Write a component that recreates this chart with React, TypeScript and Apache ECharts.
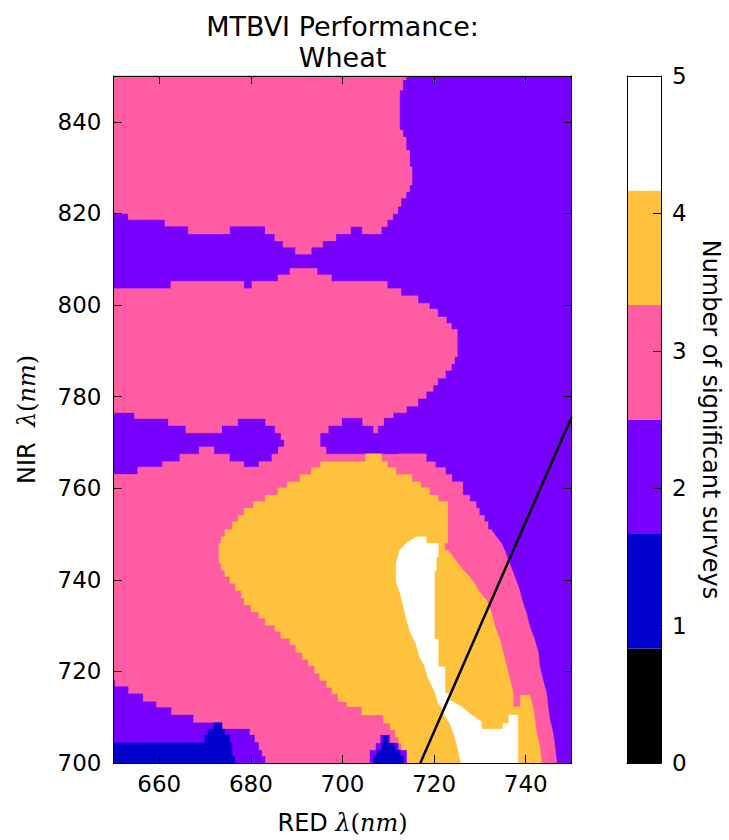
import React, { useEffect, useRef } from 'react';
import * as echarts from 'echarts';

// ---------- data ----------
const LEVEL_COLORS = ['#000000', '#0000CC', '#7800FF', '#FF5CA3', '#FFC23D', '#FFFFFF'];
const COLORBAR_LEVELS = [0, 1, 2, 3, 4, 5];
const COLORBAR_TICKS = [0, 1, 2, 3, 4, 5];
const X_TICKS = [660, 680, 700, 720, 740];
const Y_TICKS = [700, 720, 740, 760, 780, 800, 820, 840];
const TITLE_LINES = ['MTBVI Performance:', 'Wheat'];
const X_NAME = 'RED ';
const Y_NAME = 'NIR  ';
const CBAR_NAME = 'Number of significant surveys';

// region outlines in (RED nm, NIR nm); painted in this order
const purpleBackground = [[650, 700], [750, 700], [750, 850], [650, 850]];

const pinkTop = [[650, 850], [713.9, 850], [713.9, 849.1], [713.2, 849.1], [713.2, 846.9], [712.5, 846.9], [712.5, 838.2], [713.2, 838.2], [713.2, 836.7], [713.9, 836.7], [713.9, 833.8], [714.7, 833.8], [714.7, 830.2], [715.2, 830.2], [715.2, 826.2], [714.7, 826.2], [714.7, 824.7], [713.9, 824.7], [713.9, 823.3], [712.8, 823.3], [712.8, 821.5], [712.1, 821.5], [712.1, 819.9], [711.0, 819.9], [711.0, 818.6], [709.8, 818.6], [709.8, 817.1], [708.5, 817.1], [708.5, 815.5], [704.3, 815.5], [704.3, 817.1], [701.8, 817.1], [701.8, 815.5], [698.6, 815.5], [698.6, 814], [695.7, 814], [695.7, 812.6], [693.2, 812.6], [693.2, 811.1], [689.7, 811.1], [689.7, 812.6], [687, 812.6], [687, 814], [685.2, 814], [685.2, 815.5], [683.1, 815.5], [683.1, 817.2], [675.4, 817.2], [675.4, 815.5], [666.3, 815.5], [666.3, 817.2], [661.2, 817.2], [661.2, 818.6], [653.2, 818.6], [653.2, 819.9], [650, 819.9]];

const pinkMain = [[650, 803.6], [662.5, 803.6], [662.5, 805.2], [678.5, 805.2], [678.5, 803.6], [680.2, 803.6], [680.2, 805.2], [685.9, 805.2], [685.9, 806.6], [688.5, 806.6], [688.5, 808], [694.5, 808], [694.5, 806.6], [697.6, 806.6], [697.6, 805.2], [709.8, 805.2], [709.8, 803.6], [712.8, 803.6], [712.8, 802], [716.5, 802], [716.5, 800.4], [719, 800.4], [719, 799.1], [720.8, 799.1], [720.8, 797.4], [722.7, 797.4], [722.7, 796], [723.8, 796], [723.8, 794.7], [725.1, 794.7], [725.1, 788.7], [724.5, 788.7], [724.5, 787.1], [723.8, 787.1], [723.8, 785.7], [722.5, 785.7], [722.5, 784], [720.8, 784], [720.8, 782.5], [719.8, 782.5], [719.8, 781.1], [718.3, 781.1], [718.3, 779.6], [716.5, 779.6], [716.5, 777.9], [714, 777.9], [714, 776.5], [711.1, 776.5], [711.1, 775.3], [709.1, 775.3], [709.1, 767.5], [718.3, 767.5], [718.3, 765.8], [720.3, 765.8], [720.3, 764.5], [722.5, 764.5], [722.5, 763], [723.9, 763], [723.9, 761.4], [726.3, 761.4], [726.3, 758.5], [727.8, 758.5], [727.8, 757.1], [729.2, 757.1], [729.2, 755.6], [729.9, 755.6], [729.9, 754.1], [731, 754.1], [731, 752.7], [731.8, 752.7], [731.8, 751], [732.5, 751], [733.6, 749.4], [734.7, 748], [735.4, 746.5], [736.5, 743.6], [737.6, 740.7], [738.7, 737.8], [739.2, 735.6], [740.2, 732.7], [740.9, 729.8], [742, 726.9], [742.8, 724], [743.1, 721], [743.8, 718.1], [744.6, 715.2], [744.9, 712.3], [745.3, 709.4], [746, 706.5], [746.4, 703.6], [746.8, 700], [650, 700]];

const purpleBandLeft = [[650, 776.4], [654.5, 776.4], [654.5, 775.1], [661.9, 775.1], [661.9, 773.6], [665.7, 773.6], [665.7, 772], [673.7, 772], [673.7, 773.6], [677.2, 773.6], [677.2, 775.1], [683.1, 775.1], [683.1, 773.6], [685.2, 773.6], [685.2, 772], [686.5, 772], [686.5, 770.5], [687.2, 770.5], [687.2, 769.1], [685.9, 769.1], [685.9, 767.5], [684.5, 767.5], [684.5, 765.9], [681.7, 765.9], [681.7, 764.7], [678.5, 764.7], [678.5, 765.9], [675.4, 765.9], [675.4, 767.5], [672, 767.5], [672, 769.1], [668.6, 769.1], [668.6, 767.5], [664.4, 767.5], [664.4, 765.9], [660.6, 765.9], [660.6, 764.7], [655.2, 764.7], [655.2, 763.1], [650, 763.1]];

const purpleBandRight = [[695.2, 769.1], [695.2, 772], [697, 772], [697, 773.6], [699.9, 773.6], [699.9, 775.3], [704.3, 775.3], [704.3, 773.6], [706.7, 773.6], [706.7, 772], [707.8, 772], [707.8, 773.6], [709.1, 773.6], [709.1, 775.3], [712, 775.3], [712, 767.5], [696.5, 767.5], [696.5, 769.1]];

const orangeCore = [[674.3, 751], [675.9, 751], [675.9, 752.7], [677.2, 752.7], [677.2, 754.1], [678.5, 754.1], [678.5, 755.6], [680.5, 755.6], [680.5, 757.1], [683.1, 757.1], [683.1, 758.5], [685.9, 758.5], [685.9, 760.1], [687.9, 760.1], [687.9, 761.4], [690.7, 761.4], [690.7, 763], [693.2, 763], [693.2, 764.5], [695.2, 764.5], [695.2, 765.8], [705, 765.8], [705, 767.5], [708.5, 767.5], [708.5, 765.8], [709.8, 765.8], [709.8, 764.5], [711.7, 764.5], [711.7, 763], [715.2, 763], [715.2, 761.4], [717.1, 761.4], [717.1, 760.1], [719, 760.1], [719, 758.5], [720.9, 758.5], [720.9, 757.1], [723, 757.1], [723, 748], [722.3, 748], [722.3, 746.5], [723, 746.5], [724.1, 745.1], [725.2, 743.6], [726.3, 742.2], [727.7, 740.7], [728.8, 739.3], [729.9, 737.4], [731, 736], [731.5, 735.6], [732.6, 732.7], [733.3, 729.8], [734.4, 726.9], [735.1, 724], [735.9, 721], [736.6, 718.1], [737.3, 715.2], [737.3, 712.3], [738.8, 712.3], [738.8, 714.8], [740.9, 714.8], [741.7, 711.9], [742.4, 706.5], [743.1, 703.6], [743.5, 700], [714, 700], [714, 702.8], [712.9, 702.8], [712.9, 704.3], [712.2, 704.3], [712.2, 705.7], [711.5, 705.7], [711.5, 707.2], [710.4, 707.2], [710.4, 708.7], [708.9, 708.7], [708.9, 710.5], [704.2, 710.5], [704.2, 712.3], [700.9, 712.3], [700.9, 713.4], [699, 713.4], [699, 715.1], [697.7, 715.1], [697.7, 716.5], [696.5, 716.5], [696.5, 718], [695, 718], [695, 719.6], [693.9, 719.6], [693.9, 721.2], [692.5, 721.2], [692.5, 722.6], [691.2, 722.6], [691.2, 724.1], [689.8, 724.1], [689.8, 725.8], [688.5, 725.8], [688.5, 727.2], [686.5, 727.2], [686.5, 728.7], [685.2, 728.7], [685.2, 730.1], [683.1, 730.1], [683.1, 731.6], [681.7, 731.6], [681.7, 733], [680, 733], [680, 734.5], [678.5, 734.5], [678.5, 736], [677.9, 736], [677.9, 737.6], [676.6, 737.6], [676.6, 739.2], [675.4, 739.2], [675.4, 740.7], [674.3, 740.7], [674.3, 742.1], [673.5, 742.1], [673.5, 743.6], [673, 743.6], [673, 748], [673.5, 748], [673.5, 749.4], [674.3, 749.4]];

const whiteCore = [[716.1, 749.4], [718.3, 749.4], [718.3, 748], [720.9, 748], [720.9, 745], [720.5, 745], [720.5, 742], [720.1, 742], [720.1, 727], [720.9, 727], [720.9, 721], [722.4, 721], [722.4, 715.2], [723.5, 715.2], [723.5, 713.6], [724.3, 713.3], [726, 712.3], [728.2, 710.5], [730.4, 709], [730.4, 707.4], [735, 707.4], [735, 708.7], [736.3, 708.7], [736.3, 710.5], [738.3, 710.5], [738.3, 700], [725.9, 700], [725.2, 702.9], [724.5, 705.8], [723.4, 708.7], [722.2, 710.5], [721.9, 711.6], [720.9, 713.1], [720.1, 715.6], [719.4, 717.1], [718.7, 718.5], [717.8, 721.4], [716.9, 722.9], [716.1, 725.8], [714.7, 728.7], [713.9, 731.6], [713.2, 734.5], [712.5, 737.4], [711.7, 739.5], [711.7, 743.6], [712.5, 746.5], [713.9, 748]];

const purpleLowerLeft = [[650, 700], [650, 718], [650.3, 718], [650.3, 716.7], [653.2, 716.7], [653.2, 715.1], [656.4, 715.1], [656.4, 713.4], [659.3, 713.4], [659.3, 712.1], [662.6, 712.1], [662.6, 710.5], [667.4, 710.5], [667.4, 708.8], [673.7, 708.8], [673.7, 707.4], [679.7, 707.4], [679.7, 706.1], [680.8, 706.1], [680.8, 704.5], [681.7, 704.5], [681.7, 702.8], [682.4, 702.8], [682.4, 701.4], [683.1, 701.4], [683.1, 700]];

const blueLowerLeft = [[650, 700], [650, 704.4], [669.9, 704.4], [669.9, 706.1], [670.6, 706.1], [670.6, 707.4], [671.9, 707.4], [671.9, 708.8], [673.7, 708.8], [673.7, 707.4], [674.3, 707.4], [674.3, 706.1], [675.4, 706.1], [675.4, 704.4], [675.9, 704.4], [675.9, 701.4], [676.5, 701.4], [676.5, 700]];

const purpleSmall = [[706, 700], [706, 702.8], [707.3, 702.8], [707.3, 704.3], [708.3, 704.3], [708.3, 706.1], [710.3, 706.1], [710.3, 704.3], [712.2, 704.3], [712.2, 702.8], [714, 702.8], [714, 700]];

const blueSmall = [[706.7, 700], [706.7, 701.5], [707.5, 701.5], [707.5, 702.8], [708.6, 702.8], [708.6, 704.3], [708.9, 704.3], [708.9, 705.9], [710, 705.9], [710, 704.3], [711.5, 704.3], [711.5, 702.8], [712.6, 702.8], [712.6, 701.5], [713.3, 701.5], [713.3, 700]];

const REGIONS = [
  { level: 2, points: purpleBackground },
  { level: 3, points: pinkTop },
  { level: 3, points: pinkMain },
  { level: 2, points: purpleBandLeft },
  { level: 2, points: purpleBandRight },
  { level: 4, points: orangeCore },
  { level: 5, points: whiteCore },
  { level: 2, points: purpleLowerLeft },
  { level: 1, points: blueLowerLeft },
  { level: 2, points: purpleSmall },
  { level: 1, points: blueSmall },
];

const TRANSECT = [[717, 700], [750, 775.5]];

// ---------- layout ----------
const PLOT = { left: 113.5, top: 76, width: 458, height: 687 };
const CBAR = { left: 627, top: 76, width: 34, height: 687 };
const FONT = 'DejaVu Sans';
const TICK_SIZE = 23;
const TITLE_SIZE = 27;

const frameAxis = (extra: any) => ({
  type: 'value',
  z: 10,
  axisLine: { show: true, onZero: false, lineStyle: { color: '#000', width: 1 } },
  splitLine: { show: false },
  ...extra,
});

export default function App() {
  const ref = useRef<HTMLDivElement>(null);

  useEffect(() => {
    if (!ref.current) return;
    const chart = echarts.init(ref.current, null, { renderer: 'svg' });

    const tick = (vals: number[]) => ({
      show: true, inside: true, length: 8, lineStyle: { color: '#000', width: 1 }, customValues: vals,
    });

    const option: any = {
      animation: false,
      backgroundColor: '#fff',
      grid: [
        { left: PLOT.left, top: PLOT.top, width: PLOT.width, height: PLOT.height, containLabel: false },
        { left: CBAR.left, top: CBAR.top, width: CBAR.width, height: CBAR.height, containLabel: false },
      ],
      xAxis: [
        frameAxis({
          gridIndex: 0, position: 'bottom', min: 650, max: 750, interval: 10,
          axisTick: tick(X_TICKS),
          axisLabel: { show: true, margin: 9, color: '#000', fontSize: TICK_SIZE, fontFamily: FONT, customValues: X_TICKS },
        }),
        frameAxis({
          gridIndex: 0, position: 'top', min: 650, max: 750, interval: 10,
          axisTick: tick(X_TICKS), axisLabel: { show: false },
        }),
        frameAxis({ gridIndex: 1, position: 'bottom', min: 0, max: 1, axisTick: { show: false }, axisLabel: { show: false } }),
        frameAxis({ gridIndex: 1, position: 'top', min: 0, max: 1, axisTick: { show: false }, axisLabel: { show: false } }),
      ],
      yAxis: [
        frameAxis({
          gridIndex: 0, position: 'left', min: 700, max: 850, interval: 10,
          axisTick: tick(Y_TICKS),
          axisLabel: { show: true, margin: 12, color: '#000', fontSize: TICK_SIZE, fontFamily: FONT, customValues: Y_TICKS },
        }),
        frameAxis({
          gridIndex: 0, position: 'right', min: 700, max: 850, interval: 10,
          axisTick: tick(Y_TICKS), axisLabel: { show: false },
        }),
        frameAxis({ gridIndex: 1, position: 'left', min: 0, max: 5, interval: 1, axisTick: { show: false }, axisLabel: { show: false } }),
        frameAxis({
          gridIndex: 1, position: 'right', min: 0, max: 5, interval: 1,
          axisTick: { show: true, inside: true, length: 8, lineStyle: { color: '#000' } },
          axisLabel: { show: true, margin: 11, color: '#000', fontSize: TICK_SIZE, fontFamily: FONT,
            formatter: (v: number) => (COLORBAR_TICKS.includes(v) ? String(v) : '') },
        }),
      ],
      series: [
        {
          type: 'custom',
          xAxisIndex: 0,
          yAxisIndex: 0,
          silent: true,
          z: 1,
          data: REGIONS.map((r, i) => [r.points[0][0], r.points[0][1], i]),
          renderItem: (params: any, api: any) => {
            const region = REGIONS[params.dataIndex];
            const pts = region.points.map((p) => api.coord(p));
            return {
              type: 'polygon',
              shape: { points: pts },
              style: { fill: LEVEL_COLORS[region.level], stroke: LEVEL_COLORS[region.level], lineWidth: 0.3 },
            };
          },
        },
        {
          type: 'line',
          xAxisIndex: 0,
          yAxisIndex: 0,
          z: 5,
          silent: true,
          symbol: 'none',
          data: TRANSECT,
          lineStyle: { color: '#000', width: 2.5 },
        },
        {
          type: 'custom',
          xAxisIndex: 2,
          yAxisIndex: 3,
          silent: true,
          z: 1,
          data: COLORBAR_LEVELS.map((l) => [0.5, l]),
          renderItem: (params: any, api: any) => {
            const level = COLORBAR_LEVELS[params.dataIndex];
            const n = COLORBAR_LEVELS.length;
            const span = 5 / n;
            const p0 = api.coord([0, level * span]);
            const p1 = api.coord([1, (level + 1) * span]);
            return {
              type: 'rect',
              shape: { x: p0[0], y: p1[1], width: p1[0] - p0[0], height: p0[1] - p1[1] },
              style: { fill: LEVEL_COLORS[level] },
            };
          },
        },
      ],
      graphic: [
        {
          type: 'text', x: PLOT.left + PLOT.width / 2, y: 42,
          style: {
            text: TITLE_LINES.join('\n'), fontSize: TITLE_SIZE, lineHeight: 31.5, fontFamily: FONT, fill: '#000',
            align: 'center', verticalAlign: 'middle',
          },
        },
        {
          type: 'text', x: PLOT.left + PLOT.width / 2, y: 823,
          style: {
            text: `{a|${X_NAME}}{m|λ}{b|(}{m|nm}{b|)}`,
            align: 'center', verticalAlign: 'middle',
            rich: {
              a: { fontSize: 24, fontFamily: FONT, fill: '#000' },
              b: { fontSize: 24, fontFamily: 'DejaVu Serif', fill: '#000' },
              m: { fontSize: 24, fontFamily: 'DejaVu Serif', fontStyle: 'italic', fill: '#000' },
            },
          },
        },
        {
          type: 'text', x: 27, y: PLOT.top + PLOT.height / 2, rotation: Math.PI / 2,
          style: {
            text: `{a|${Y_NAME}}{m|λ}{b|(}{m|nm}{b|)}`,
            align: 'center', verticalAlign: 'middle',
            rich: {
              a: { fontSize: 24, fontFamily: FONT, fill: '#000' },
              b: { fontSize: 24, fontFamily: 'DejaVu Serif', fill: '#000' },
              m: { fontSize: 24, fontFamily: 'DejaVu Serif', fontStyle: 'italic', fill: '#000' },
            },
          },
        },
        {
          type: 'text', x: 711, y: CBAR.top + CBAR.height / 2, rotation: -Math.PI / 2,
          style: { text: CBAR_NAME, fontSize: 24, fontFamily: FONT, fill: '#000', align: 'center', verticalAlign: 'middle' },
        },
      ],
    };

    chart.setOption(option);
    return () => chart.dispose();
  }, []);

  return <div ref={ref} style={{ position: 'absolute', left: 0, top: 0, width: 729, height: 840 }} />;
}
